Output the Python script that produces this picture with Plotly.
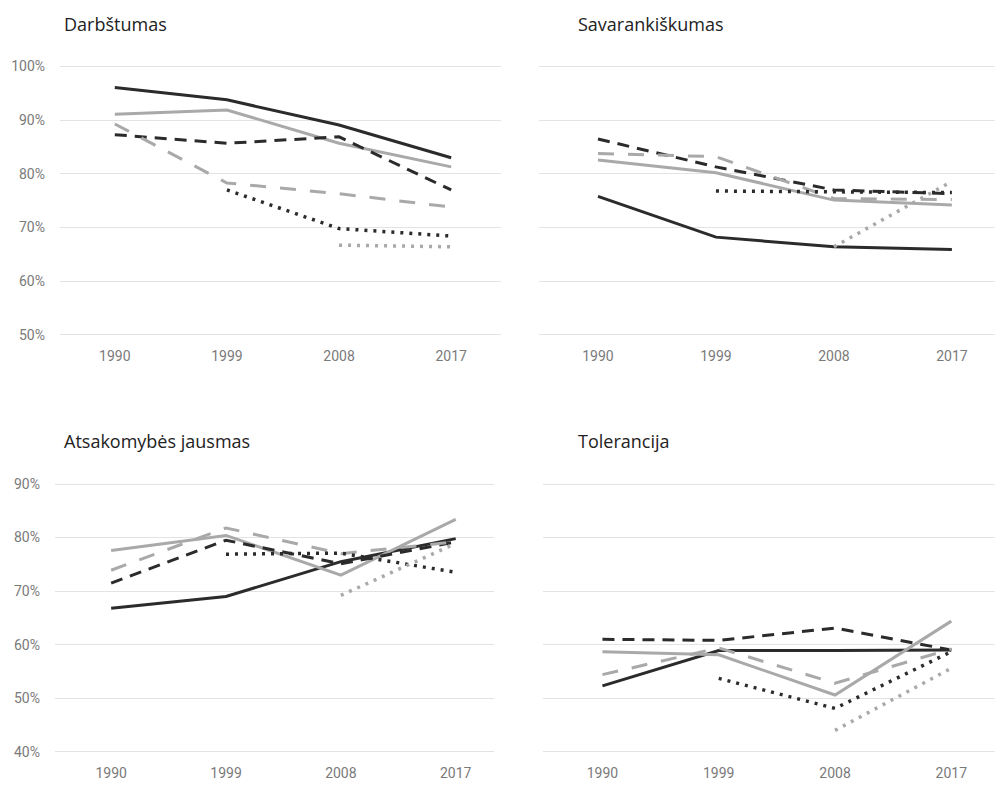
import plotly.graph_objects as go

# Data (values in %)
years = [1990, 1999, 2008, 2017]

panel_titles = ["Darbštumas", "Savarankiškumas", "Atsakomybės jausmas", "Tolerancija"]

# series per panel: black solid, grey solid, black dashed, grey dashed, black dotted, grey dotted
darbstumas = [
    [96.1, 93.8, 89.1, 83.0],
    [91.1, 91.9, 85.7, 81.3],
    [87.3, 85.7, 86.9, 77.0],
    [89.3, 78.3, 76.3, 73.8],
    [None, 77.0, 69.8, 68.4],
    [None, None, 66.7, 66.4],
]
savarankiskumas = [
    [75.8, 68.2, 66.4, 65.9],
    [82.6, 80.2, 75.1, 74.2],
    [86.5, 81.3, 77.0, 76.3],
    [83.8, 83.2, 75.4, 75.2],
    [None, 76.8, 76.7, 76.5],
    [None, None, 66.4, 78.6],
]
atsakomybe = [
    [66.8, 69.0, 75.5, 79.8],
    [77.6, 80.4, 73.0, 83.4],
    [71.5, 79.5, 75.1, 79.2],
    [73.9, 81.8, 77.0, 79.2],
    [None, 76.9, 77.1, 73.5],
    [None, None, 69.2, 78.9],
]
tolerancija = [
    [52.3, 58.9, 58.9, 59.0],
    [58.7, 58.1, 50.6, 64.4],
    [61.0, 60.8, 63.1, 59.0],
    [54.4, 59.4, 52.8, 59.2],
    [None, 53.7, 48.1, 58.7],
    [None, None, 44.0, 55.6],
]
panels = [darbstumas, savarankiskumas, atsakomybe, tolerancija]

top_ticks = [50, 60, 70, 80, 90, 100]
bottom_ticks = [40, 50, 60, 70, 80, 90]

BLACK = "#2b2b2b"
GREY = "#a9a9a9"
styles = [
    dict(color=BLACK, width=3, dash="solid"),
    dict(color=GREY, width=3, dash="solid"),
    dict(color=BLACK, width=3, dash="12px,8px"),
    dict(color=GREY, width=3, dash="16px,14px"),
    dict(color=BLACK, width=3.5, dash="3px,6px"),
    dict(color=GREY, width=3.5, dash="3px,6px"),
]

# page body has an 8px margin, so the figure is drawn 8px in from the window corner
OFF = 8
W, H = 1003 - OFF, 792 - OFF

def px_x(p):
    return max(0, min(1, (p - OFF) / W))

def px_y(p):
    return max(0, min(1, 1 - (p - OFF) / H))

# pixel boxes in window coords: (left, right, top, bottom)
boxes = [(60, 501, 58, 346), (539, 1003, 58, 346), (55, 494, 476, 763), (543, 1003, 476, 763)]
yranges = [[47.9, 101.6], [47.9, 101.6], [37.9, 91.5], [37.9, 91.5]]
xranges = [[1985.6, 2021.0], [1985.5, 2020.9], [1985.6, 2020.0], [1985.4, 2021.0]]
ticks = [top_ticks, top_ticks, bottom_ticks, bottom_ticks]
show_y = [True, False, True, False]
title_pos = [(62, 24), (576, 24), (62, 441), (576, 441)]

fig = go.Figure()
tick_font = dict(family="Roboto, sans-serif", size=14, color="#7a7a7a")

for i, series in enumerate(panels):
    xa = "x" if i == 0 else f"x{i+1}"
    ya = "y" if i == 0 else f"y{i+1}"
    for vals, st in zip(series, styles):
        fig.add_trace(go.Scatter(x=years, y=vals, mode="lines", line=st,
                                 xaxis=xa, yaxis=ya, showlegend=False, hoverinfo="x+y"))
    l, r, t, b = boxes[i]
    suffix = "" if i == 0 else str(i + 1)
    fig.layout["xaxis" + suffix] = dict(
        domain=[px_x(l), px_x(r)], range=xranges[i], anchor=ya,
        tickvals=years, ticktext=[str(y) for y in years], showgrid=False,
        zeroline=False, showline=False, tickfont=tick_font, ticks="",
    )
    fig.layout["yaxis" + suffix] = dict(
        domain=[px_y(b), px_y(t)], range=yranges[i], anchor=xa,
        tickvals=ticks[i], ticktext=[f"{v}%" for v in ticks[i]],
        showticklabels=show_y[i], showgrid=True, gridcolor="#e3e3e3", gridwidth=1,
        zeroline=False, showline=False, tickfont=tick_font, ticklabelstandoff=14,
    )
    tx, ty = title_pos[i]
    fig.add_annotation(text=panel_titles[i], xref="paper", yref="paper",
                       x=px_x(tx), y=px_y(ty), xanchor="left", yanchor="middle",
                       showarrow=False,
                       font=dict(family="Open Sans, Noto Sans, sans-serif", size=18, color="#222"))

fig.update_layout(width=W, height=H, margin=dict(l=0, r=0, t=0, b=0),
                  plot_bgcolor="white", paper_bgcolor="white")

fig.write_html("out.html")
